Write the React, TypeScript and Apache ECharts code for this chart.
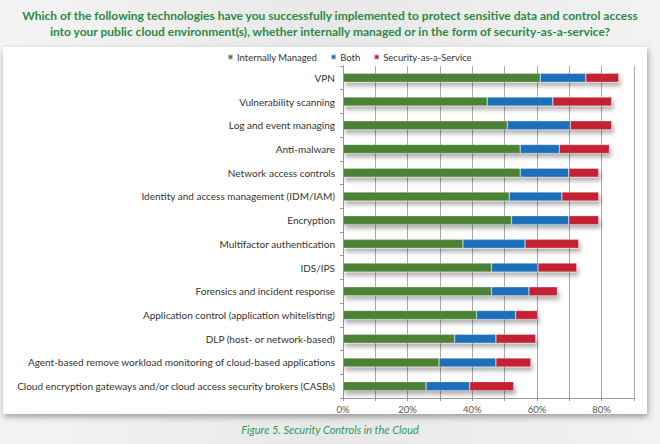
import React, { useEffect, useRef } from "react";
import * as echarts from "echarts";

const categories = [
  "VPN",
  "Vulnerability scanning",
  "Log and event managing",
  "Anti-malware",
  "Network access controls",
  "Identity and access management (IDM/IAM)",
  "Encryption",
  "Multifactor authentication",
  "IDS/IPS",
  "Forensics and incident response",
  "Application control (application whitelisting)",
  "DLP (host- or network-based)",
  "Agent-based remove workload monitoring of cloud-based applications",
  "Cloud encryption gateways and/or cloud access security brokers (CASBs)",
];
const internallyManaged = [61, 44.6, 50.8, 54.8, 54.8, 51.4, 52.1, 37.1, 45.9, 45.9, 41.3, 34.5, 29.7, 25.7];
const both = [14.1, 20.3, 19.5, 12.1, 15, 16.3, 17.7, 19.2, 14.4, 11.6, 12.1, 12.8, 17.6, 13.5];
const securityAsAService = [10.2, 18.2, 12.8, 15.5, 9.3, 11.4, 9.3, 16.6, 12, 8.8, 6.8, 12.3, 10.8, 13.6];
const seriesNames = ["Internally Managed", "Both", "Security-as-a-Service"];
const xTickLabels = ["0%", "20%", "40%", "60%", "80%"];
const title =
  "Which of the following technologies have you successfully implemented to protect sensitive data and control access\ninto your public cloud environment(s), whether internally managed or in the form of security-as-a-service?";
const caption = "Figure 5. Security Controls in the Cloud";

const colors = ["#4c8236", "#1c70bb", "#c42130"];

export default function App() {
  const ref = useRef<HTMLDivElement>(null);
  useEffect(() => {
    if (!ref.current) return;
    const chart = echarts.init(ref.current, null, { renderer: "svg" });
    const dataSets = [internallyManaged, both, securityAsAService];
    chart.setOption({
      animation: false,
      backgroundColor: {
        type: "linear",
        x: 0,
        y: 0,
        x2: 1,
        y2: 0,
        colorStops: [
          { offset: 0, color: "#f4f4f4" },
          { offset: 0.5, color: "#e8e8e8" },
          { offset: 1, color: "#f2f2f2" },
        ],
      },
      graphic: [
        {
          type: "rect",
          z: -10,
          shape: { x: 3, y: 47, width: 644, height: 367 },
          style: {
            fill: "#ffffff",
            shadowBlur: 6,
            shadowOffsetX: 1,
            shadowOffsetY: 3,
            shadowColor: "rgba(0,0,0,0.35)",
          },
        },
        {
          type: "text",
          x: 330,
          y: 7,
          style: {
            text: title,
            fill: "#2b8a45",
            font: "bold 12px Lato",
            textAlign: "center",
            lineHeight: 16,
          },
        },
        {
          type: "text",
          x: 330,
          y: 424,
          style: {
            text: caption,
            fill: "#2f9a5c",
            font: "italic 11px Lato",
            textAlign: "center",
          },
        },
      ],
      legend: {
        top: 47,
        left: 222,
        itemWidth: 5,
        itemHeight: 5,
        itemGap: 13,
        icon: "rect",
        textStyle: { fontFamily: "Lato", fontSize: 9.5, color: "#333", padding: [0, 0, 0, -1] },
        data: seriesNames,
      },
      grid: { left: 343, right: 26, top: 66, bottom: 46 },
      xAxis: {
        type: "value",
        min: 0,
        max: 90,
        interval: 10,
        axisLine: { show: true, lineStyle: { color: "#999" } },
        axisTick: { show: true, length: 3, lineStyle: { color: "#999" } },
        splitLine: { show: true, lineStyle: { color: "#aaa", width: 1 } },
        axisLabel: {
          fontFamily: "Lato",
          fontSize: 9.5,
          color: "#555",
          margin: 6,
          formatter: (v: number) => {
            const idx = v / 20;
            return Number.isInteger(idx) && idx < xTickLabels.length ? xTickLabels[idx] : "";
          },
        },
      },
      yAxis: {
        type: "category",
        inverse: true,
        data: categories,
        axisLine: { show: true, lineStyle: { color: "#999" } },
        axisTick: { show: true, length: 3, lineStyle: { color: "#999" } },
        axisLabel: { fontFamily: "Lato", fontSize: 10, color: "#333", margin: 8 },
      },
      series: seriesNames.map((name, i) => ({
        name,
        type: "bar",
        stack: "total",
        barWidth: 9,
        data: dataSets[i],
        itemStyle: {
          color: colors[i],
          borderColor: "rgba(255,255,255,0.6)",
          borderWidth: 0.5,
          shadowBlur: 4,
          shadowOffsetX: 2,
          shadowOffsetY: 4,
          shadowColor: "rgba(0,0,0,0.3)",
        },
      })),
    });
    return () => chart.dispose();
  }, []);
  return (
    <div
      ref={ref}
      style={{ position: "fixed", left: 0, top: 0, width: 660, height: 444 }}
    />
  );
}
